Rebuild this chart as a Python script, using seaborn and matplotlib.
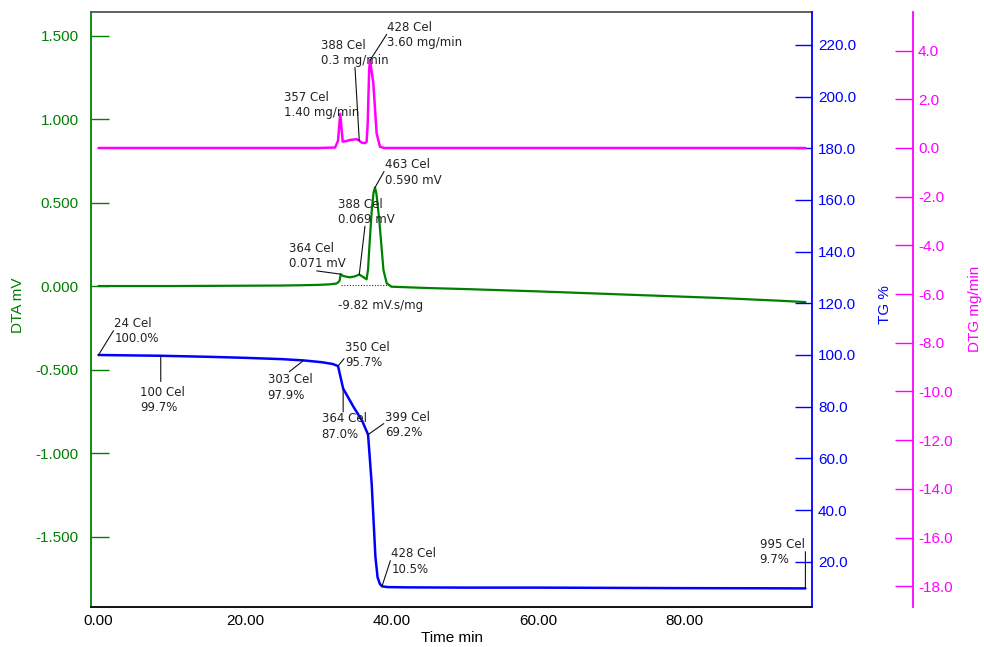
import matplotlib
matplotlib.use("Agg")
import matplotlib.pyplot as plt
import seaborn as sns
from matplotlib.ticker import FixedLocator, FormatStrFormatter

# ---------------- data ----------------
# DTA signal (mV) against time (min)
time_dta = [0, 5, 10, 15, 20, 25, 28, 30, 31.5, 32.5, 32.9, 33.07, 33.4, 34.3, 35.0,
            35.6, 36.1, 36.6, 36.8, 37.0, 37.3, 37.55, 37.75, 37.95, 38.33, 38.9, 39.35,
            40.0, 45, 50, 55, 60, 65, 70, 75, 80, 85, 90, 93, 96.5]
dta = [0.000, 0.000, 0.000, 0.001, 0.002, 0.003, 0.005, 0.007, 0.010, 0.015, 0.030, 0.071,
       0.060, 0.052, 0.058, 0.069, 0.055, 0.040, 0.100, 0.250, 0.450, 0.560, 0.590, 0.550,
       0.395, 0.096, 0.016, -0.004, -0.012, -0.018, -0.025, -0.032, -0.040, -0.048,
       -0.056, -0.064, -0.072, -0.082, -0.088, -0.096]

# TG mass (%) against time (min)
time_tg = [0, 8.5, 15, 20, 25, 28.0, 30.5, 32.0, 32.7, 33.0, 33.4, 34.0, 34.8, 36.0, 36.8,
           37.3, 37.8, 38.1, 38.4, 38.7, 39.5, 42, 50, 60, 70, 80, 90, 96.5]
tg = [100.0, 99.7, 99.3, 98.9, 98.4, 97.9, 97.2, 96.5, 95.7, 92.0, 87.0, 84.0, 80.0, 74.5,
      69.2, 50.0, 22.0, 14.0, 11.5, 10.5, 10.2, 10.1, 10.0, 10.0, 9.9, 9.8, 9.75, 9.7]

# DTG rate (mg/min) against time (min)
time_dtg = [0, 10, 20, 30, 32.3, 32.7, 33.0, 33.34, 33.8, 34.33, 35.25, 35.6, 35.93, 36.4,
            36.6, 36.75, 36.95, 37.07, 37.52, 37.97, 38.43, 39.0, 45, 60, 80, 96.5]
dtg = [0.0, 0.0, 0.0, 0.0, 0.02, 0.30, 1.40, 0.26, 0.28, 0.33, 0.36, 0.30, 0.22, 0.20,
       0.25, 1.00, 3.20, 3.60, 2.66, 0.60, 0.05, 0.0, 0.0, 0.0, 0.0, 0.0]

# DTA peak integration baseline
base_time = [33.07, 39.35]
base_dta = [0.006, 0.006]
peak_area_label = "-9.82 mV.s/mg"

# labelled points: (time, label)
dtg_notes = [(33.0, "357 Cel\n1.40 mg/min"), (35.6, "388 Cel\n0.3 mg/min"),
             (37.07, "428 Cel\n3.60 mg/min")]
dta_notes = [(33.07, "364 Cel\n0.071 mV"), (35.6, "388 Cel\n0.069 mV"),
             (37.75, "463 Cel\n0.590 mV")]
tg_notes = [(0, "24 Cel\n100.0%"), (8.5, "100 Cel\n99.7%"), (28.0, "303 Cel\n97.9%"),
            (32.7, "350 Cel\n95.7%"), (33.4, "364 Cel\n87.0%"), (36.8, "399 Cel\n69.2%"),
            (38.7, "428 Cel\n10.5%"), (96.5, "995 Cel\n9.7%")]

# axis ticks
x_ticks = [0, 20, 40, 60, 80]
dta_ticks = [-1.5, -1.0, -0.5, 0.0, 0.5, 1.0, 1.5]
tg_ticks = [20, 40, 60, 80, 100, 120, 140, 160, 180, 200, 220]
dtg_ticks = [-18, -16, -14, -12, -10, -8, -6, -4, -2, 0, 2, 4]

# ---------------- styling ----------------
GREEN = "#008000"
BLUE = "#0000ff"
MAGENTA = "#ff00ff"
TXT = "#222222"

sns.set_theme(style="white")
plt.rcParams["font.family"] = ["DejaVu Sans"]
plt.rcParams["axes.unicode_minus"] = False

W, H = 984, 647
fig = plt.figure(figsize=(W / 100, H / 100), dpi=100)
ax = fig.add_axes([91 / W, 1 - 607 / H, (812 - 91) / W, (607 - 12) / H])
ax_tg = ax.twinx()
ax_dtg = ax.twinx()

sns.lineplot(x=time_dta, y=dta, ax=ax, color=GREEN, linewidth=1.6)
sns.lineplot(x=base_time, y=base_dta, ax=ax, color="#333333", linewidth=0.8,
             linestyle=(0, (1, 1.5)))
sns.lineplot(x=time_tg, y=tg, ax=ax_tg, color=BLUE, linewidth=1.8)
sns.lineplot(x=time_dtg, y=dtg, ax=ax_dtg, color=MAGENTA, linewidth=1.8)

ax.set_xlim(-1.02, 97.4)
ax.set_ylim(-1.922, 1.641)
ax_tg.set_ylim(2.5, 232.7)
ax_dtg.set_ylim(-18.85, 5.585)

for a in (ax, ax_tg, ax_dtg):
    a.set_xlabel("")
    a.set_ylabel("")
    a.grid(False)

TICK_FONT = "Liberation Sans"

# x axis
ax.xaxis.set_major_locator(FixedLocator(x_ticks))
ax.xaxis.set_major_formatter(FormatStrFormatter("%.2f"))
ax.tick_params(axis="x", direction="in", length=10, width=1, color="#333333",
               labelcolor="black", labelsize=11, pad=5, labelfontfamily=TICK_FONT)

# DTA axis (left)
ax.yaxis.set_major_locator(FixedLocator(dta_ticks))
ax.yaxis.set_major_formatter(FormatStrFormatter("%.3f"))
ax.tick_params(axis="y", direction="in", length=13, width=1, colors=GREEN,
               labelsize=11, pad=9, labelfontfamily=TICK_FONT)

# TG axis (right)
ax_tg.yaxis.set_major_locator(FixedLocator(tg_ticks))
ax_tg.yaxis.set_major_formatter(FormatStrFormatter("%.1f"))
ax_tg.tick_params(axis="y", direction="in", length=12, width=1, colors=BLUE,
                  labelsize=11, pad=4.3, labelfontfamily=TICK_FONT)

# DTG axis (offset right)
ax_dtg.spines["right"].set_position(("outward", 101 * 0.72))
ax_dtg.yaxis.set_major_locator(FixedLocator(dtg_ticks))
ax_dtg.yaxis.set_major_formatter(FormatStrFormatter("%.1f"))
ax_dtg.tick_params(axis="y", direction="in", length=13, width=1, colors=MAGENTA,
                   labelsize=11, pad=3.6, labelfontfamily=TICK_FONT)

# spines
for s in ("top", "bottom", "left", "right"):
    ax.spines[s].set_visible(False)
    ax_tg.spines[s].set_visible(False)
    ax_dtg.spines[s].set_visible(False)
ax.spines["left"].set_visible(True)
ax.spines["left"].set_color(GREEN)
ax.spines["left"].set_linewidth(1.3)
ax.spines["bottom"].set_visible(True)
ax.spines["bottom"].set_color("black")
ax.spines["bottom"].set_linewidth(1.3)
ax.spines["top"].set_visible(True)
ax.spines["top"].set_color("#555555")
ax.spines["top"].set_linewidth(1.3)
ax_tg.spines["right"].set_visible(True)
ax_tg.spines["right"].set_color(BLUE)
ax_tg.spines["right"].set_linewidth(1.3)
ax_dtg.spines["right"].set_visible(True)
ax_dtg.spines["right"].set_color(MAGENTA)
ax_dtg.spines["right"].set_linewidth(1.3)


# annotation placement: text offset (left edge, vertical centre) and leader start,
# both in pixels from the labelled point (image-style y, downward positive)
def note(axis, t, v, text, text_off, lead_off=None):
    if lead_off is not None:
        axis.annotate("", xy=(t, v), xytext=(lead_off[0], -lead_off[1]),
                      textcoords="offset pixels",
                      arrowprops=dict(arrowstyle="-", color="#111111", lw=0.8,
                                      shrinkA=0, shrinkB=0))
    axis.annotate(text, xy=(t, v), xytext=(text_off[0], -text_off[1]),
                  textcoords="offset pixels", ha="left", va="center",
                  fontsize=8.5, color=TXT, linespacing=1.25)


def value_at(times, values, t):
    return values[times.index(t)]


dtg_layout = [((-56, -9), None), ((-38.6, -87.6), (-4.3, -73.3)),
              ((16.7, -25.5), (16.7, -26))]
for (t, lab), (toff, loff) in zip(dtg_notes, dtg_layout):
    note(ax_dtg, t, value_at(time_dtg, dtg, t), lab, toff, loff)

dta_layout = [((-51.7, -18), (-24, -3.3)), ((-21, -62.6), (5.7, -48.3)),
              ((9.7, -15.2), (9, -16))]
for (t, lab), (toff, loff) in zip(dta_notes, dta_layout):
    note(ax, t, value_at(time_dta, dta, t), lab, toff, loff)

tg_layout = [((16, -23.8), (15, -24.3)), ((-20.3, 44), (0, 25.7)),
             ((-36, 27), (-14.3, 11.3)), ((7.4, -10.9), (6, -7.4)),
             ((-21.6, 38), (0, 23.3)), ((17.4, -9.6), (15.7, -11)),
             ((9.4, -25), (8.4, -25.7)), ((-45.7, -36.3), (0, -36.6))]
for (t, lab), (toff, loff) in zip(tg_notes, tg_layout):
    note(ax_tg, t, value_at(time_tg, tg, t), lab, toff, loff)

note(ax, base_time[0], base_dta[0], peak_area_label, (-2.4, 20))

# axis titles
NARROW = ["Liberation Sans Narrow", "Liberation Sans"]
fig.text(18 / W, 1 - 305 / H, "DTA mV", rotation=90, color=GREEN, fontsize=11,
         family=NARROW, ha="center", va="center")
fig.text(885 / W, 1 - 305 / H, "TG %", rotation=90, color=BLUE, fontsize=11,
         family=TICK_FONT, ha="center", va="center")
fig.text(975 / W, 1 - 309 / H, "DTG mg/min", rotation=90, color=MAGENTA, fontsize=11,
         family=TICK_FONT, ha="center", va="center")
fig.text(452 / W, 1 - 638 / H, "Time min", color="black", fontsize=11,
         family=TICK_FONT, ha="center", va="center")

fig.savefig("out.png", dpi=100)
